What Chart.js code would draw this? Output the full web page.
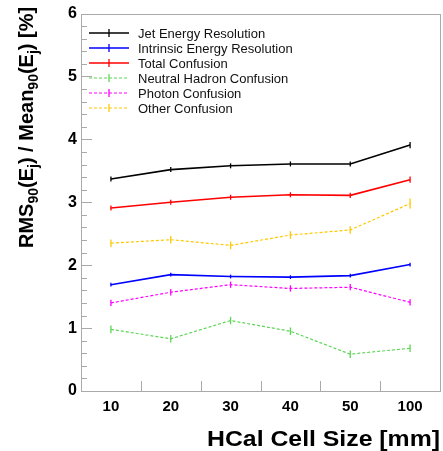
<!DOCTYPE html>
<html>
<head>
<meta charset="utf-8">
<script src="https://cdn.jsdelivr.net/npm/chart.js@4.4.1/dist/chart.umd.min.js"></script>
<style>
  html, body { margin: 0; padding: 0; background: #fff; }
  #wrap { width: 443px; height: 451px; }
</style>
</head>
<body>
<div id="wrap"><canvas id="chart" width="443" height="451"></canvas></div>
<script>
const cellSizes = ["10", "20", "30", "40", "50", "100"];

const jetResolution = [3.37, 3.52, 3.58, 3.61, 3.61, 3.91];
const jetResolutionErr = [0.04, 0.04, 0.04, 0.04, 0.04, 0.05];
const intrinsicResolution = [1.69, 1.85, 1.82, 1.81, 1.835, 2.01];
const intrinsicResolutionErr = [0.03, 0.03, 0.03, 0.03, 0.03, 0.03];
const totalConfusion = [2.91, 3.0, 3.08, 3.12, 3.11, 3.36];
const totalConfusionErr = [0.04, 0.04, 0.04, 0.04, 0.04, 0.05];
const neutralHadronConfusion = [0.98, 0.83, 1.12, 0.95, 0.585, 0.68];
const neutralHadronConfusionErr = [0.06, 0.06, 0.06, 0.06, 0.06, 0.06];
const photonConfusion = [1.4, 1.57, 1.69, 1.63, 1.65, 1.41];
const photonConfusionErr = [0.05, 0.05, 0.05, 0.05, 0.05, 0.05];
const otherConfusion = [2.35, 2.405, 2.315, 2.48, 2.56, 2.98];
const otherConfusionErr = [0.06, 0.06, 0.06, 0.06, 0.06, 0.08];

const FONT = "'Liberation Sans', Arial, Helvetica, sans-serif";

function series(label, data, err, color, dashed) {
  return {
    label: label,
    data: [...data],
    errors: [...err],
    borderColor: color,
    backgroundColor: color,
    borderWidth: dashed ? 1.2 : 1.6,
    borderDash: dashed ? [3, 2] : [],
    pointRadius: 0,
    tension: 0,
    fill: false,
  };
}

// vertical error bars centred on each point
const errorBars = {
  id: "errorBars",
  afterDatasetsDraw(chart) {
    const { ctx, scales } = chart;
    chart.data.datasets.forEach((ds) => {
      ctx.save();
      ctx.strokeStyle = ds.borderColor;
      ctx.lineWidth = 1.3;
      ds.data.forEach((v, i) => {
        const x = scales.x.getPixelForValue(i);
        ctx.beginPath();
        ctx.moveTo(x, scales.y.getPixelForValue(v - ds.errors[i]));
        ctx.lineTo(x, scales.y.getPixelForValue(v + ds.errors[i]));
        ctx.stroke();
      });
      ctx.restore();
    });
  },
};

// grey frame with inward tick marks (major every 1, minor every 0.2)
const frame = {
  id: "frame",
  afterDraw(chart) {
    const { ctx, chartArea: a, scales } = chart;
    ctx.save();
    ctx.strokeStyle = "#aaaaaa";
    ctx.lineWidth = 1;
    ctx.strokeRect(Math.round(a.left) + 0.5, Math.round(a.top) + 0.5, Math.round(a.right - a.left), Math.round(a.bottom - a.top));

    ctx.beginPath();
    for (let i = 0; i <= 30; i++) {
      const y = Math.round(scales.y.getPixelForValue(i * 0.2)) + 0.5;
      ctx.moveTo(a.left, y);
      ctx.lineTo(a.left + (i % 5 === 0 ? 11 : 6), y);
    }
    const half = (scales.x.getPixelForValue(1) - scales.x.getPixelForValue(0)) / 2;
    for (let i = 0; i < cellSizes.length; i++) {
      const x = Math.round(scales.x.getPixelForValue(i) + half) + 0.5;
      ctx.moveTo(x, a.bottom);
      ctx.lineTo(x, a.bottom - 10);
    }
    ctx.stroke();
    ctx.restore();
  },
};

// legend box in the upper left of the plot
const insetLegend = {
  id: "insetLegend",
  afterDraw(chart) {
    const { ctx } = chart;
    ctx.save();
    ctx.font = "13px " + FONT;
    ctx.textBaseline = "middle";
    chart.data.datasets.forEach((ds, i) => {
      const y = 33 + i * 15;
      ctx.strokeStyle = ds.borderColor;
      ctx.lineWidth = ds.borderWidth;
      ctx.setLineDash(ds.borderDash);
      ctx.beginPath();
      ctx.moveTo(89, y);
      ctx.lineTo(129, y);
      ctx.stroke();
      ctx.setLineDash([]);
      ctx.lineWidth = 1.3;
      ctx.beginPath();
      ctx.moveTo(109, y - 4);
      ctx.lineTo(109, y + 4);
      ctx.stroke();
      ctx.fillStyle = "#111";
      ctx.fillText(ds.label, 138, y + 1);
    });
    ctx.restore();
  },
};

// axis titles, the y title carries subscripts
const axisTitles = {
  id: "axisTitles",
  afterDraw(chart) {
    const { ctx } = chart;
    ctx.save();
    ctx.fillStyle = "#000";
    ctx.font = "bold 22px " + FONT;
    ctx.textAlign = "right";
    ctx.textBaseline = "alphabetic";
    const xTitle = "HCal Cell Size [mm]";
    const stretch = 233 / ctx.measureText(xTitle).width;
    ctx.save();
    ctx.translate(440, 446);
    ctx.scale(stretch, 1);
    ctx.fillText(xTitle, 0, 0);
    ctx.restore();

    const big = "bold 20px " + FONT;
    const small = "bold 14px " + FONT;
    const parts = [
      ["RMS", big, 0], ["90", small, 5], ["(E", big, 0], ["j", small, 5],
      [") / Mean", big, 0], ["90", small, 5], ["(E", big, 0], ["j", small, 5], [") [%]", big, 0],
    ];
    ctx.translate(33, 248);
    ctx.rotate(-Math.PI / 2);
    ctx.textAlign = "left";
    let x = 0;
    parts.forEach(([text, font, dy]) => {
      ctx.font = font;
      ctx.fillText(text, x, dy);
      x += ctx.measureText(text).width;
    });
    ctx.restore();
  },
};

new Chart(document.getElementById("chart"), {
  type: "line",
  data: {
    labels: cellSizes,
    datasets: [
      series("Jet Energy Resolution", jetResolution, jetResolutionErr, "#000000", false),
      series("Intrinsic Energy Resolution", intrinsicResolution, intrinsicResolutionErr, "#0000ff", false),
      series("Total Confusion", totalConfusion, totalConfusionErr, "#ff0000", false),
      series("Neutral Hadron Confusion", neutralHadronConfusion, neutralHadronConfusionErr, "#5cd655", true),
      series("Photon Confusion", photonConfusion, photonConfusionErr, "#ff00ff", true),
      series("Other Confusion", otherConfusion, otherConfusionErr, "#ffc800", true),
    ],
  },
  options: {
    responsive: false,
    animation: false,
    layout: { padding: { top: 12, right: 3, left: 0, bottom: 0 } },
    plugins: { legend: { display: false }, tooltip: { enabled: false } },
    scales: {
      x: {
        type: "category",
        offset: true,
        grid: { display: false, drawTicks: false },
        border: { display: false },
        ticks: { color: "#000", font: { family: FONT, size: 15, weight: "bold" }, padding: 7, maxRotation: 0 },
        afterFit(scale) { scale.height = 60; },
      },
      y: {
        min: 0,
        max: 6,
        grid: { display: false, drawTicks: false },
        border: { display: false },
        ticks: {
          stepSize: 1,
          color: "#000",
          padding: 4,
          font: { family: FONT, size: 16, weight: "bold" },
        },
        afterFit(scale) { scale.width = 81; },
      },
    },
  },
  plugins: [errorBars, frame, insetLegend, axisTitles],
});
</script>
</body>
</html>
